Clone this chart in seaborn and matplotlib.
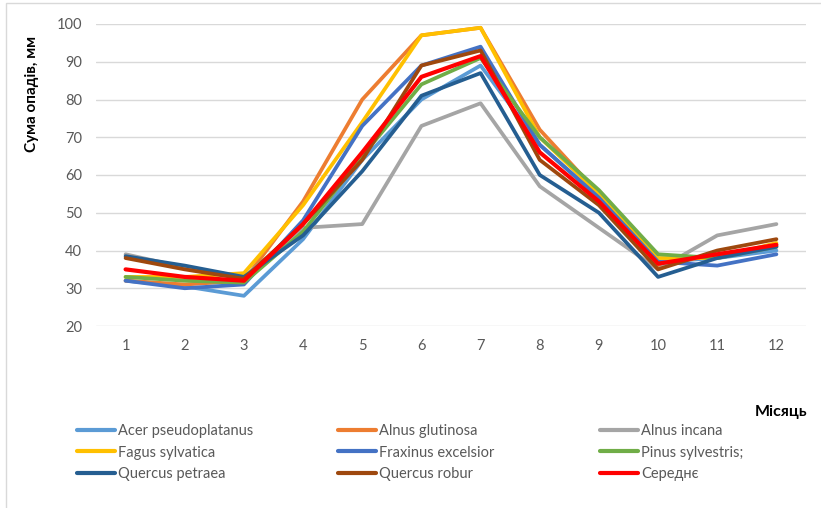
import matplotlib
matplotlib.use("Agg")
import matplotlib.pyplot as plt
from matplotlib.patches import Rectangle
import pandas as pd
import seaborn as sns

# Monthly precipitation sums (mm) under each tree species
months = list(range(1, 13))
acer_pseudoplatanus = [32, 30.5, 28, 43, 64, 80, 89, 68, 54, 37, 38, 40]
alnus_glutinosa = [32, 31, 32, 53, 80, 97, 99, 72, 55, 36, 39, 41]
alnus_incana = [39, 35.5, 33, 46, 47, 73, 79, 57, 46, 35, 44, 47]
fagus_sylvatica = [33, 33, 34, 52, 74, 97, 99, 70, 55, 38, 38, 42]
fraxinus_excelsior = [32, 30, 31, 48, 73, 89, 94, 68, 54, 37, 36, 39]
pinus_sylvestris = [33, 32, 31.5, 45, 65, 84, 91, 70, 56, 39, 38, 41]
quercus_petraea = [38.5, 36, 33, 44, 61, 81, 87, 60, 50, 33, 38, 41]
quercus_robur = [38, 35, 32.5, 47, 64, 89, 93, 64, 52, 35, 40, 43]
average = [35, 33, 32, 47, 66, 86, 91.5, 66, 53, 36.5, 39, 41.5]

series_names = ["Acer pseudoplatanus", "Alnus glutinosa", "Alnus incana",
                "Fagus sylvatica", "Fraxinus excelsior", "Pinus sylvestris;",
                "Quercus petraea", "Quercus robur", "Середнє"]
series_values = [acer_pseudoplatanus, alnus_glutinosa, alnus_incana,
                 fagus_sylvatica, fraxinus_excelsior, pinus_sylvestris,
                 quercus_petraea, quercus_robur, average]
colors = ["#5B9BD5", "#ED7D31", "#A5A5A5", "#FFC000", "#4472C4",
          "#70AD47", "#255E91", "#9E480E", "#FF0000"]

y_ticks = [20, 30, 40, 50, 60, 70, 80, 90, 100]

df = pd.DataFrame(
    [(name, m, v) for name, vals in zip(series_names, series_values)
     for m, v in zip(months, vals)],
    columns=["series", "month", "value"],
)

sns.set_theme(style="white")
plt.rcParams["font.family"] = ["Lato", "Noto Sans", "DejaVu Sans"]

W, H = 821, 508
fig = plt.figure(figsize=(W / 100, H / 100), dpi=100)
ax = fig.add_axes([96 / W, 1 - 326 / H, 710 / W, 302 / H])

sns.lineplot(data=df, x="month", y="value", hue="series",
             hue_order=series_names, palette=dict(zip(series_names, colors)),
             linewidth=2.7, ax=ax, legend=False, zorder=3)
for line in ax.lines:
    line.set_solid_joinstyle("round")
    line.set_solid_capstyle("round")
ax.lines[-1].set_linewidth(3.0)

ax.set_xlim(0.5, 12.5)
ax.set_ylim(20, 100)
ax.set_xticks(months)
ax.set_yticks(y_ticks)
ax.set_xlabel("")
ax.set_ylabel("")
ax.grid(axis="y", color="#D9D9D9", linewidth=1.0)
ax.grid(axis="x", visible=False)
for s in ax.spines.values():
    s.set_visible(False)
ax.tick_params(axis="both", length=0, labelsize=10.5, labelcolor="#595959")
ax.tick_params(axis="y", pad=10)
ax.tick_params(axis="x", pad=9)

fig.text(32 / W, 1 - 94 / H, "Сума опадів, мм", rotation=90, ha="center",
         va="center", fontsize=11, fontweight="bold", color="black")
fig.text(807 / W, 1 - 412 / H, "Місяць", ha="right", va="center",
         fontsize=11.5, fontweight="bold", color="black")

# Legend laid out in three equal-width columns
handles = ax.lines
col_x = [77, 338, 600]
for c in range(3):
    idx = [c, c + 3, c + 6]
    leg = fig.legend([handles[i] for i in idx], [series_names[i] for i in idx],
                     loc="upper left", bbox_to_anchor=(col_x[c] / W, 1 - 424 / H),
                     frameon=False, fontsize=10.5, handlelength=2.6,
                     handletextpad=0.2, borderpad=0, borderaxespad=0,
                     labelspacing=0.52, labelcolor="#595959")
    for lh in leg.get_lines():
        lh.set_linewidth(3)
        lh.set_solid_capstyle("round")

# Thin chart-area frame
fig.add_artist(Rectangle((5.5 / W, -0.1), 2, 1.1 - 3.5 / H, transform=fig.transFigure,
                         fill=False, edgecolor="#D9D9D9", linewidth=1.0))

fig.savefig("out.png", dpi=100, facecolor="white")
